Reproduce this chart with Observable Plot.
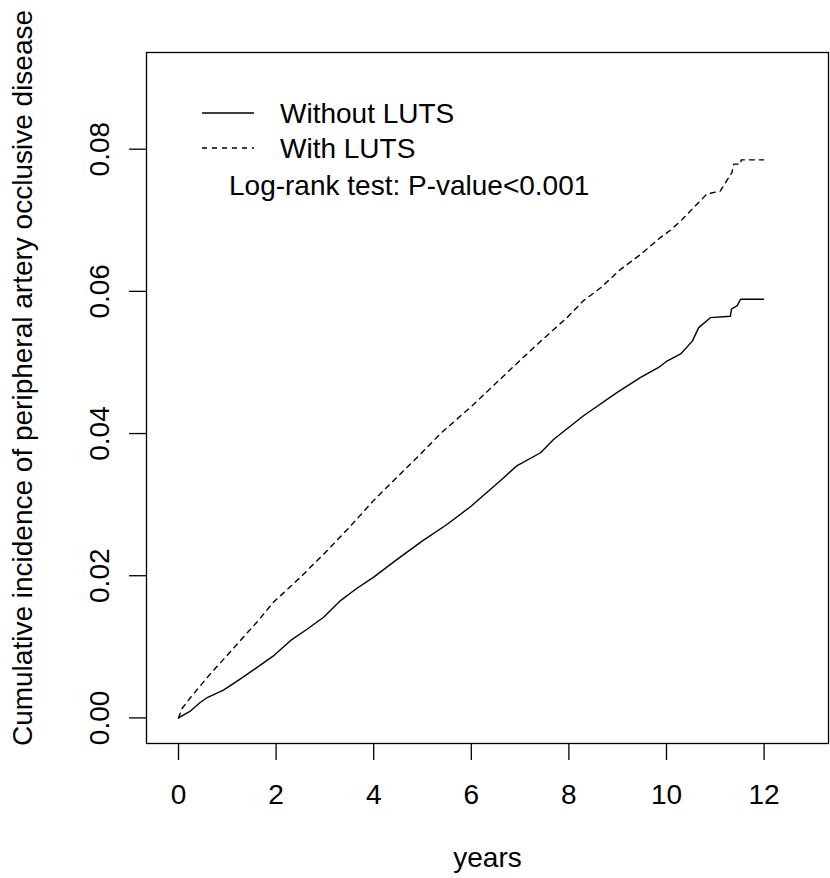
<!DOCTYPE html>
<html><head><meta charset="utf-8">
<script src="https://cdn.jsdelivr.net/npm/d3@7"></script>
<script src="https://cdn.jsdelivr.net/npm/@observablehq/plot@0.6"></script>
<style>
body{margin:0;background:#fff;}
#chart svg{display:block;}
</style></head><body><div id="chart"></div>
<script>
// ---- data ----
const seriesNames = ["Without LUTS", "With LUTS"];
const withoutTime  = [0, 0.1, 0.25, 0.45, 0.6, 0.92, 1.27, 1.61, 1.96, 2.3, 2.64, 2.98, 3.32, 3.65, 4.0, 4.5, 5.0, 5.5, 6.0, 6.6, 6.94, 7.42, 7.69, 8.3, 8.99, 9.47, 9.84, 10.01, 10.29, 10.53, 10.66, 10.9, 11.31, 11.33, 11.45, 11.52, 11.99];
const withoutValue = [0, 0.0004, 0.001, 0.0022, 0.0029, 0.0039, 0.0055, 0.0071, 0.0088, 0.0109, 0.0125, 0.0142, 0.0165, 0.0182, 0.0198, 0.0224, 0.0249, 0.0272, 0.0298, 0.0334, 0.0355, 0.0373, 0.0392, 0.0425, 0.0458, 0.0479, 0.0493, 0.0502, 0.0512, 0.053, 0.0549, 0.0563, 0.0565, 0.0575, 0.058, 0.0589, 0.0589];
const withTime  = [0, 0.07, 0.25, 0.59, 0.93, 1.27, 1.61, 1.95, 2.5, 3.0, 3.5, 4.0, 4.5, 5.0, 5.37, 6.0, 6.6, 7.28, 7.96, 8.3, 8.65, 9.06, 9.47, 9.88, 10.08, 10.29, 10.63, 10.83, 11.1, 11.34, 11.38, 11.52, 11.53, 11.99];
const withValue = [0, 0.0013, 0.0029, 0.0057, 0.0083, 0.0109, 0.0135, 0.0163, 0.0198, 0.0232, 0.0268, 0.0306, 0.034, 0.0374, 0.040, 0.0438, 0.0477, 0.0521, 0.0563, 0.0587, 0.0605, 0.0631, 0.0652, 0.0676, 0.0686, 0.0699, 0.0723, 0.0737, 0.0741, 0.0767, 0.0779, 0.0779, 0.0785, 0.0785];
const xTicks = [0, 2, 4, 6, 8, 10, 12];
const yTicks = [0, 0.02, 0.04, 0.06, 0.08];
const xLabel = "years";
const yLabel = "Cumulative incidence of peripheral artery occlusive disease";
const testText = "Log-rank test: P-value<0.001";

// ---- build ----
const withoutRows = withoutTime.map((t, i) => ({t, v: withoutValue[i]}));
const withRows = withTime.map((t, i) => ({t, v: withValue[i]}));
const dashes = [null, "5,5"];
const FONT = 28;
const LW = 1.4;

function legendMark(index, scales, values, dims) {
  const g = d3.create("svg:g").attr("font-size", FONT).attr("fill", "#000").attr("text-anchor", "start");
  const x0 = dims.marginLeft, y0 = dims.marginTop;
  seriesNames.forEach((name, i) => {
    const y = y0 + 61 + i * 35;
    const l = g.append("line").attr("x1", x0 + 56).attr("x2", x0 + 108)
      .attr("y1", y).attr("y2", y).attr("stroke", "#000").attr("stroke-width", LW);
    if (dashes[i]) l.attr("stroke-dasharray", dashes[i]);
    g.append("text").attr("x", x0 + 134).attr("y", y).attr("dy", "0.36em").text(name);
  });
  g.append("text").attr("x", x0 + 83).attr("y", y0 + 133).attr("dy", "0.36em").text(testText);
  return g.node();
}

const chart = Plot.plot({
  width: 830, height: 878,
  marginLeft: 146, marginRight: 2, marginTop: 52, marginBottom: 135,
  style: {fontFamily: "'Liberation Sans', Arial, sans-serif", fontSize: FONT + "px", background: "#fff", color: "#000"},
  x: {domain: [-0.656, 13.32]},
  y: {domain: [-0.0036, 0.0936]},
  marks: [
    Plot.frame({stroke: "#000", strokeWidth: 1.3}),
    Plot.axisX({ticks: xTicks, tickSize: 17, tickPadding: 24, tickFormat: d => String(d), label: null, strokeWidth: 1.3}),
    Plot.axisY({ticks: yTicks, tickSize: 17, tickRotate: -90, tickPadding: 21, tickFormat: d3.format(".2f"), label: null, strokeWidth: 1.3}),
    Plot.text([xLabel], {frameAnchor: "bottom", dy: 123, text: d => d}),
    Plot.text([yLabel], {frameAnchor: "left", textAnchor: "middle", dx: -123, dy: -20, rotate: -90, text: d => d}),
    Plot.line(withoutRows, {x: "t", y: "v", stroke: "#000", strokeWidth: LW}),
    Plot.line(withRows, {x: "t", y: "v", stroke: "#000", strokeWidth: LW, strokeDasharray: dashes[1]}),
    legendMark
  ]
});
document.getElementById("chart").append(chart);
</script>
</body></html>
